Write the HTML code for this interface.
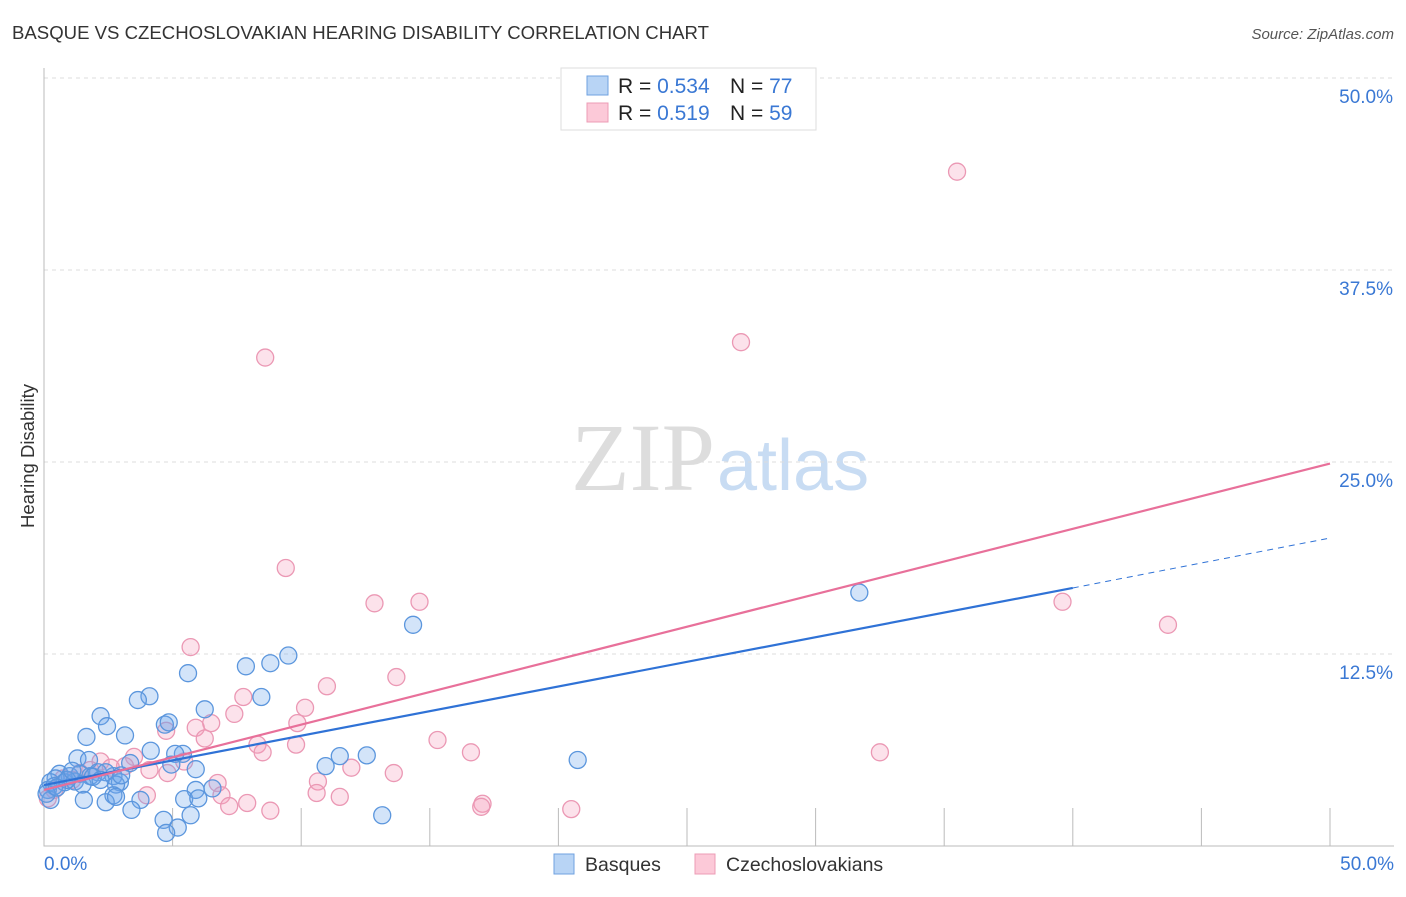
<!DOCTYPE html>
<html><head><meta charset="utf-8"><style>
body{margin:0;background:#fff;font-family:"Liberation Sans",sans-serif;}
</style></head><body>
<svg width="1406" height="892" xmlns="http://www.w3.org/2000/svg" id="chart" font-family="Liberation Sans, sans-serif">
<text x="12" y="39" font-size="18" fill="#333" textLength="697" lengthAdjust="spacingAndGlyphs">BASQUE VS CZECHOSLOVAKIAN HEARING DISABILITY CORRELATION CHART</text>
<text x="1394" y="39" font-size="15" fill="#555" font-style="italic" text-anchor="end">Source: ZipAtlas.com</text>
<text x="34" y="456" font-size="18.5" fill="#333" transform="rotate(-90 34 456)" text-anchor="middle">Hearing Disability</text>
<text x="715" y="490" font-size="96" fill="#ddd" font-family="Liberation Serif, serif" text-anchor="end">ZIP</text>
<text x="717" y="490" font-size="72" fill="#c8dcf3">atlas</text>
<g id="grid"></g>
<g id="marks"></g>
<g>
<rect x="561" y="68" width="255" height="62" fill="#fff" stroke="#ddd"/>
<rect x="587" y="76" width="21" height="19" fill="#b8d4f5" stroke="#6fa2e0"/>
<rect x="587" y="103" width="21" height="19" fill="#fcc9d8" stroke="#ec9cb6"/>
<text x="618" y="93" font-size="21" fill="#222">R = <tspan fill="#3a78d4">0.534</tspan></text>
<text x="730" y="93" font-size="21" fill="#222">N = <tspan fill="#3a78d4">77</tspan></text>
<text x="618" y="120" font-size="21" fill="#222">R = <tspan fill="#3a78d4"> 0.519</tspan></text>
<text x="730" y="120" font-size="21" fill="#222">N = <tspan fill="#3a78d4">59</tspan></text>
</g>
<g>
<rect x="554" y="854" width="20" height="20" fill="#b8d4f5" stroke="#6fa2e0"/>
<text x="585" y="871" font-size="19.5" fill="#333">Basques</text>
<rect x="695" y="854" width="20" height="20" fill="#fcc9d8" stroke="#ec9cb6"/>
<text x="726" y="871" font-size="19.5" fill="#333">Czechoslovakians</text>
</g>
</svg>
<script>
const yTicks=[12.5,25,37.5,50];
const yTickLabels=["12.5%","25.0%","37.5%","50.0%"];
const xMinorTicks=[5,10,15,20,25,30,35,40,45,50];
const basqueX=[31.7,14.35,9.5,8.8,7.85,5.6,4.1,3.65,8.45,6.25,2.2,2.45,4.7,4.85,3.15,1.65,4.15,5.4,5.1,1.3,1.75,12.55,11.5,10.95,20.75,5.9,3.35,4.95,2.7,2.1,0.6,1.0,1.4,1.8,2.4,0.45,0.25,0.8,1.2,2.95,0.15,0.4,1.5,2.8,6.55,5.9,2.7,3.75,1.55,2.4,2.8,5.45,6.0,0.25,3.4,5.7,13.15,4.65,5.2,4.75,0.1,0.9,1.9,2.2,3.0,0.5,1.1];
const basqueY=[16.5,14.4,12.4,11.9,11.7,11.25,9.75,9.5,9.7,8.9,8.45,7.8,7.9,8.05,7.2,7.1,6.2,6.0,6.0,5.7,5.6,5.9,5.85,5.2,5.6,5.0,5.4,5.3,4.55,4.8,4.7,4.55,4.7,4.55,4.8,4.4,4.15,4.15,4.2,4.15,3.65,3.9,4.0,4.0,3.75,3.65,3.3,3.0,3.0,2.85,3.2,3.05,3.1,3.0,2.35,2.0,2.0,1.7,1.2,0.85,3.4,4.3,4.5,4.3,4.6,3.8,4.9];
const czechX=[35.5,27.1,8.6,9.4,12.85,14.6,39.6,43.7,5.7,13.7,11.0,7.75,10.15,7.4,6.5,9.85,5.9,4.75,6.25,15.3,32.5,16.6,8.3,8.5,9.8,3.5,5.45,2.2,3.15,4.1,4.8,11.95,13.6,10.65,6.75,2.6,1.8,0.75,0.4,0.15,4.0,6.9,10.6,11.5,7.9,7.2,8.8,17.05,17.0,20.5,1.1,1.4];
const czechY=[43.9,32.8,31.8,18.1,15.8,15.9,15.9,14.4,12.95,11.0,10.4,9.7,9.0,8.6,8.0,8.0,7.7,7.5,7.0,6.9,6.1,6.1,6.6,6.1,6.6,5.8,5.5,5.5,5.2,4.95,4.75,5.1,4.75,4.2,4.1,5.1,4.95,4.4,3.65,3.1,3.3,3.3,3.45,3.2,2.8,2.6,2.3,2.75,2.55,2.4,4.3,4.75];
const basqueLine=[[0,3.97],[40,16.8],[50,20.05]];
const czechLine=[[0,3.65],[50,24.9]];
const NS="http://www.w3.org/2000/svg";
const X=v=>44+v*25.72, Y=v=>846-v*15.36;
function mk(tag,attrs,parent){const e=document.createElementNS(NS,tag);for(const k in attrs)e.setAttribute(k,attrs[k]);parent.appendChild(e);return e;}
const grid=document.getElementById('grid'),marks=document.getElementById('marks');
yTicks.forEach((t,i)=>{
 const l=mk('line',{x1:44,x2:1394,y1:Y(t),y2:Y(t),stroke:'#ddd','stroke-dasharray':'4,4'},grid);
 
 
 const tx=mk('text',{x:1393,y:Y(t)+25,'font-size':19,fill:'#3a78d4','text-anchor':'end'},grid);
 tx.textContent=yTickLabels[i];
 
 
});
const ax=mk('path',{d:`M44 68V846H1394`,stroke:'#bbb',fill:'none'},grid);


xMinorTicks.forEach(t=>{
 const l=mk('line',{x1:X(t),x2:X(t),y1:808,y2:846,stroke:'#bbb'},grid);
 
 
});
[[0,'0.0%','start',44],[50,'50.0%','end',1394]].forEach(d=>{
 const tx=mk('text',{x:d[3],y:870,'font-size':19,fill:'#3a78d4','text-anchor':d[2]},grid);
 tx.textContent=d[1];
 
 
});
czechX.forEach((v,i)=>{
 const c=mk('circle',{cx:X(v),cy:Y(czechY[i]),r:8.5,fill:'rgba(244,160,188,0.3)',stroke:'#eb98b4','stroke-width':1.3},marks);
 
 
});
basqueX.forEach((v,i)=>{
 const c=mk('circle',{cx:X(v),cy:Y(basqueY[i]),r:8.5,fill:'rgba(110,165,235,0.3)',stroke:'#5b96dd','stroke-width':1.3},marks);
 
 
});
const bl1=mk('line',{x1:X(basqueLine[0][0]),y1:Y(basqueLine[0][1]),x2:X(basqueLine[1][0]),y2:Y(basqueLine[1][1]),stroke:'#2f72d6','stroke-width':2.2},marks);


const bl2=mk('line',{x1:X(basqueLine[1][0]),y1:Y(basqueLine[1][1]),x2:X(basqueLine[2][0]),y2:Y(basqueLine[2][1]),stroke:'#2f72d6','stroke-width':1,'stroke-dasharray':'6,5'},marks);


const cl=mk('line',{x1:X(czechLine[0][0]),y1:Y(czechLine[0][1]),x2:X(czechLine[1][0]),y2:Y(czechLine[1][1]),stroke:'#e8709a','stroke-width':2.2},marks);


</script>
</body></html>
